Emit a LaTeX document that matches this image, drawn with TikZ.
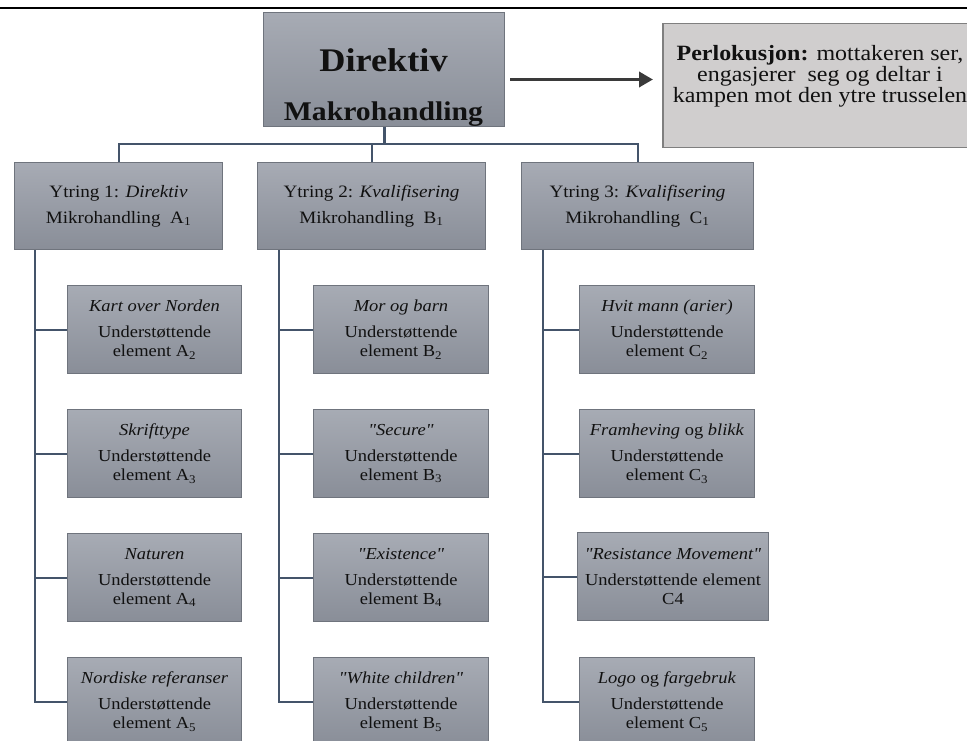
\documentclass[tikz,border=0pt]{standalone}
\usepackage{fontspec}
\setmainfont{Liberation Serif}[FakeStretch=1.1,Ligatures=TeXOff]
\usetikzlibrary{arrows.meta}
\definecolor{boxtop}{HTML}{A7ABB4}
\definecolor{boxbot}{HTML}{898E98}
\definecolor{boxline}{HTML}{6F747D}
\definecolor{connc}{HTML}{44546A}
\definecolor{perlfill}{HTML}{D0CECE}
\definecolor{perlline}{HTML}{7F7F7F}
\definecolor{arrowc}{HTML}{3A3A3A}
\definecolor{txt}{HTML}{111111}
\tikzset{
  gbox/.style={draw=boxline, line width=1pt, top color=boxtop, bottom color=boxbot,
    rectangle, inner sep=0pt, align=center, anchor=north west, text=txt},
  lvlbox/.style={gbox, minimum height=87pt, font=\fontsize{17.4}{26}\selectfont},
  elbox/.style={gbox, minimum width=175pt, minimum height=88pt, font=\fontsize{16.8}{19}\selectfont},
  connline/.style={draw=connc, line width=2pt},
  bigarrow/.style={draw=arrowc, line width=3.5pt, -{Triangle[length=14pt,width=15pt]}},
}
\newcommand{\elt}[2]{#1\\[7pt]Understøttende\\element #2}
\begin{document}
\begin{tikzpicture}[x=1pt,y=-1pt]
\useasboundingbox (0,0) rectangle (967,741);
% top rule
\coordinate (ruleL) at (0,8);
\coordinate (ruleR) at (967,8);
\draw[line width=2.5pt, black] (ruleL) -- (ruleR);

% main box
\node[gbox, minimum width=241pt, minimum height=114pt] (main) at (263,12) {};
\node[anchor=base, font=\fontsize{33}{34}\selectfont\bfseries, text=txt] (mainA) at (383.5,72) {Direktiv};
\node[anchor=base, font=\fontsize{27}{28}\selectfont\bfseries, text=txt] (mainB) at (383.5,120.5) {Makrohandling};

% perlocution box
\node[draw=perlline, line width=1.5pt, fill=perlfill, rectangle, inner sep=0pt,
      minimum width=315pt, minimum height=124pt, anchor=north west] (perl) at (662,23) {};
\node[align=center, text=txt, font=\fontsize{21.8}{20.8}\selectfont, inner sep=0pt] (perlT) at (820,76)
  {\textbf{Perlokusjon:} mottakeren ser,\\engasjerer\ \ seg og deltar i\\kampen mot den ytre trusselen};

% arrow
\coordinate (arrS) at ([xshift=5pt,yshift=-10pt]main.east);
\path (arrS -| perl.west) coordinate (arrP);
\coordinate (arrE) at ([xshift=-9pt]arrP);
\draw[bigarrow] (arrS) -- (arrE);

% level 1
\node[lvlbox, minimum width=208pt] (y1) at (14,162) {Ytring 1: \textit{Direktiv}\\Mikrohandling\ \ A\textsubscript{1}};
\node[lvlbox, minimum width=228pt] (y2) at (257,162) {Ytring 2: \textit{Kvalifisering}\\Mikrohandling\ \ B\textsubscript{1}};
\node[lvlbox, minimum width=232pt] (y3) at (521,162) {Ytring 3: \textit{Kvalifisering}\\Mikrohandling\ \ C\textsubscript{1}};

% column A
\node[elbox, minimum width=174pt] (a2) at (67,285) {\elt{\textit{Kart over Norden}}{A\textsubscript{2}}};
\node[elbox, minimum width=174pt] (a3) at (67,409) {\elt{\textit{Skrifttype}}{A\textsubscript{3}}};
\node[elbox, minimum width=174pt] (a4) at (67,533) {\elt{\textit{Naturen}}{A\textsubscript{4}}};
\node[elbox, minimum width=174pt] (a5) at (67,657) {\elt{\textit{Nordiske referanser}}{A\textsubscript{5}}};

% column B
\node[elbox] (b2) at (313,285) {\elt{\textit{Mor og barn}}{B\textsubscript{2}}};
\node[elbox] (b3) at (313,409) {\elt{\textit{"Secure"}}{B\textsubscript{3}}};
\node[elbox] (b4) at (313,533) {\elt{\textit{"Existence"}}{B\textsubscript{4}}};
\node[elbox] (b5) at (313,657) {\elt{\textit{"White children"}}{B\textsubscript{5}}};

% column C
\node[elbox] (c2) at (579,285) {\elt{\textit{Hvit mann (arier)}}{C\textsubscript{2}}};
\node[elbox] (c3) at (579,409) {\elt{\textit{Framheving} og \textit{blikk}}{C\textsubscript{3}}};
\node[elbox, minimum width=191pt] (c4) at (577,532) {\textit{"Resistance Movement"}\\[7pt]Understøttende element\\C4};
\node[elbox] (c5) at (579,657) {\elt{\textit{Logo} og \textit{fargebruk}}{C\textsubscript{5}}};

% tree connectors
\coordinate (bar) at ([yshift=18pt]y2.north);
\draw[connline, line width=3pt] (main.south) -- (main.south |- bar);
\draw[connline] (y1.north) |- (bar) -| (y3.north);
\draw[connline] (y2.north) -- (bar);

\coordinate (sA) at ([xshift=21pt]y1.south west);
\coordinate (sB) at ([xshift=22pt]y2.south west);
\coordinate (sC) at ([xshift=22pt]y3.south west);
\draw[connline] (sA) |- (a5.west);
\draw[connline] (sB) |- (b5.west);
\draw[connline] (sC) |- (c5.west);
\foreach \n in {a2,a3,a4} {\draw[connline] (\n.west) -- (\n.west -| sA);}
\foreach \n in {b2,b3,b4} {\draw[connline] (\n.west) -- (\n.west -| sB);}
\foreach \n in {c2,c3,c4} {\draw[connline] (\n.west) -- (\n.west -| sC);}
\end{tikzpicture}
\end{document}
